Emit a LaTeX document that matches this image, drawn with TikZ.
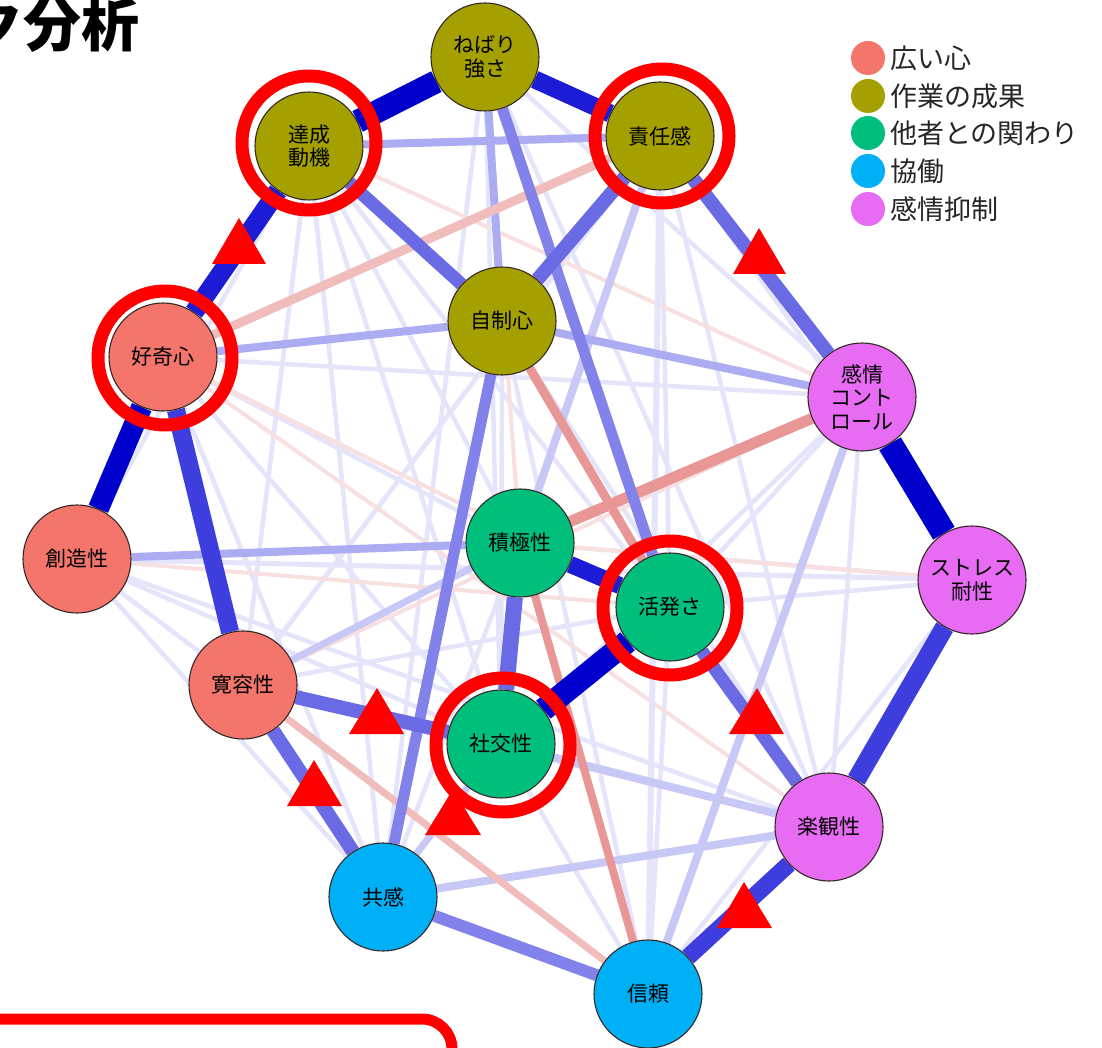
\documentclass[tikz,border=0pt]{standalone}
\usepackage{fontspec}
\setmainfont{Noto Sans CJK JP}
\pgfdeclarelayer{edges}
\pgfsetlayers{edges,main}
\definecolor{cA}{HTML}{F3756B}
\definecolor{cB}{HTML}{A3A000}
\definecolor{cC}{HTML}{00BF7D}
\definecolor{cD}{HTML}{00B0F6}
\definecolor{cE}{HTML}{E76BF3}
\definecolor{b1}{RGB}{0,0,204}
\definecolor{b2}{RGB}{28,28,214}
\definecolor{b3}{RGB}{62,62,222}
\definecolor{b4}{RGB}{106,106,228}
\definecolor{b5}{RGB}{130,130,234}
\definecolor{b6}{RGB}{172,172,242}
\definecolor{b7}{RGB}{200,200,246}
\definecolor{b8}{RGB}{228,228,250}
\definecolor{r1}{RGB}{232,150,150}
\definecolor{r2}{RGB}{240,188,188}
\definecolor{r3}{RGB}{249,224,224}
\definecolor{nodeedge}{RGB}{55,40,40}
\begin{document}
\begin{tikzpicture}[x=1pt,y=-1pt,
  nd/.style={circle, draw=nodeedge, line width=1.1pt, minimum size=108pt, inner sep=0pt,
    align=center, font=\fontsize{21}{23.5}\selectfont, text=black},
  ring/.style={draw=red, line width=13pt},
  tri/.style={fill=red},
  legdot/.style={circle, minimum size=34pt, inner sep=0pt},
  legtxt/.style={anchor=west, inner sep=0pt, font=\fontsize{27}{30}\selectfont, text=black!85},
  ed/.style={line cap=butt}
]
\useasboundingbox (0,0) rectangle (1102,1048);
\begin{scope}
\clip (0,0) rectangle (1102,1048);

% title (partly cut at left)
\node[anchor=east, inner sep=0pt, font=\fontsize{58}{60}\selectfont\bfseries] (title) at (140,25) {ク分析};

% nodes
\node[nd, fill=cB] (nb) at (485,57) {ねばり\\強さ};
\node[nd, fill=cB] (ta) at (309,146) {達成\\動機};
\node[nd, fill=cB] (se) at (660,136) {責任感};
\node[nd, fill=cB] (ji) at (502,321) {自制心};
\node[nd, fill=cA] (ko) at (163,357) {好奇心};
\node[nd, fill=cE] (kc) at (862,397) {感情\\コント\\ロール};
\node[nd, fill=cA] (so) at (77,559) {創造性};
\node[nd, fill=cC] (sk) at (520,543) {積極性};
\node[nd, fill=cC] (ka) at (670,607) {活発さ};
\node[nd, fill=cE] (st) at (972,580) {ストレス\\耐性};
\node[nd, fill=cA] (kn) at (243,685) {寛容性};
\node[nd, fill=cC] (sh) at (501,744) {社交性};
\node[nd, fill=cE] (ra) at (829,827) {楽観性};
\node[nd, fill=cD] (ky) at (383,897) {共感};
\node[nd, fill=cD] (sn) at (648,994) {信頼};

\begin{pgfonlayer}{edges}
\fill[white] (0,0) rectangle (1102,1048);
% faint background edges
\foreach \a/\b in {ta/sk,ta/ka,ta/sh,ta/kn,ta/so,ko/sk,ko/sh,ko/ky,so/kn,so/sh,so/ky,so/ra,
  kn/ka,kn/ra,nb/sh,nb/ky,nb/kc,se/ka,se/st,se/ra,kc/ka,kc/sh,kc/ra,st/ka,st/sk,st/sn,
  ka/sn,sh/sn,sk/ky,ji/sh,ji/sn,ji/ra,ko/kc,kn/se,ta/ky,nb/ra,se/kn}
  \draw[ed, b8, line width=4.5pt] (\a) -- (\b);
\foreach \a/\b in {ta/kc,ko/ka,nb/sk,so/ka,kn/kc,ko/ra,sk/st}
  \draw[ed, r3, line width=4pt] (\a) -- (\b);
% light edges
\draw[ed, b8, line width=6pt] (se) -- (sn);
\draw[ed, b8, line width=5pt] (so) -- (st);
\draw[ed, b7, line width=8pt] (se) -- (sk);
\draw[ed, b7, line width=8pt] (kc) -- (sn);
\draw[ed, b7, line width=8pt] (sh) -- (ra);
\draw[ed, b7, line width=8pt] (ky) -- (ra);
\draw[ed, b7, line width=7pt] (ky) -- (sh);
\draw[ed, b7, line width=7pt] (kn) -- (sk);
\draw[ed, b6, line width=8pt] (nb) -- (ji);
\draw[ed, b6, line width=8pt] (ta) -- (se);
\draw[ed, b6, line width=8pt] (ko) -- (ji);
\draw[ed, b6, line width=8pt] (so) -- (sk);
\draw[ed, b6, line width=8pt] (ji) -- (kc);
% pink edges
\draw[ed, r2, line width=7pt] (kn) -- (sn);
\draw[ed, r2, line width=9pt] (ko) -- (se);
\draw[ed, r1, line width=8pt] (sk) -- (sn);
\draw[ed, r1, line width=9pt] (ji) -- (ka);
\draw[ed, r1, line width=11pt] (sk) -- (kc);
% medium edges
\draw[ed, b5, line width=11pt] (nb) -- (ka);
\draw[ed, b5, line width=11pt] (ji) -- (ky);
\draw[ed, b5, line width=12pt] (ky) -- (sn);
\draw[ed, b4, line width=13pt] (ka) -- (ra);
\draw[ed, b4, line width=14pt] (se) -- (ji);
\draw[ed, b4, line width=13pt] (ta) -- (ji);
\draw[ed, b4, line width=14pt] (kn) -- (ky);
\draw[ed, b4, line width=14pt] (kn) -- (sh);
\draw[ed, b4, line width=14pt] (se) -- (kc);
\draw[ed, b4, line width=16pt] (sk) -- (sh);
\draw[ed, b3, line width=18pt] (ko) -- (kn);
% strong edges
\draw[ed, b3, line width=17pt] (ra) -- (sn);
\draw[ed, b3, line width=19pt] (st) -- (ra);
\draw[ed, b2, line width=17pt] (sk) -- (ka);
\draw[ed, b2, line width=18pt] (nb) -- (se);
\draw[ed, b2, line width=19pt] (ta) -- (ko);
\draw[ed, b1, line width=21pt] (ko) -- (so);
\draw[ed, b1, line width=23pt] (ta) -- (nb);
\draw[ed, b1, line width=23pt] (ka) -- (sh);
\draw[ed, b1, line width=25pt] (kc) -- (st);
\end{pgfonlayer}

% legend
\node[legdot, fill=cA] (l1) at (868,58) {};
\node[legdot, fill=cB] (l2) at (868,96) {};
\node[legdot, fill=cC] (l3) at (868,133) {};
\node[legdot, fill=cD] (l4) at (868,171) {};
\node[legdot, fill=cE] (l5) at (868,209) {};
\node[legtxt] (t1) at (890,58) {広い心};
\node[legtxt] (t2) at (890,96) {作業の成果};
\node[legtxt] (t3) at (890,133) {他者との関わり};
\node[legtxt] (t4) at (890,171) {協働};
\node[legtxt] (t5) at (890,209) {感情抑制};

% red triangles
\fill[tri] (239,218) -- (212,264) -- (266,264) -- cycle;
\fill[tri] (759,228) -- (733,274) -- (786,274) -- cycle;
\fill[tri] (377,688) -- (349,734) -- (404,734) -- cycle;
\fill[tri] (314,760) -- (287,806) -- (342,806) -- cycle;
\fill[tri] (453,789) -- (425,835) -- (481,835) -- cycle;
\fill[tri] (757,688) -- (729,734) -- (784,734) -- cycle;
\fill[tri] (744,882) -- (717,928) -- (772,928) -- cycle;

% red rings
\draw[ring] (309,143) circle[radius=67pt];
\draw[ring] (662,136) circle[radius=67pt];
\draw[ring] (165,358) circle[radius=67pt];
\draw[ring] (670,608) circle[radius=67pt];
\draw[ring] (503,745) circle[radius=67pt];

% red rounded box at bottom left
\draw[red, line width=11pt, rounded corners=30pt] (-30,1100) -- (-30,1019) -- (452,1019) -- (452,1100);
\end{scope}
\end{tikzpicture}
\end{document}
